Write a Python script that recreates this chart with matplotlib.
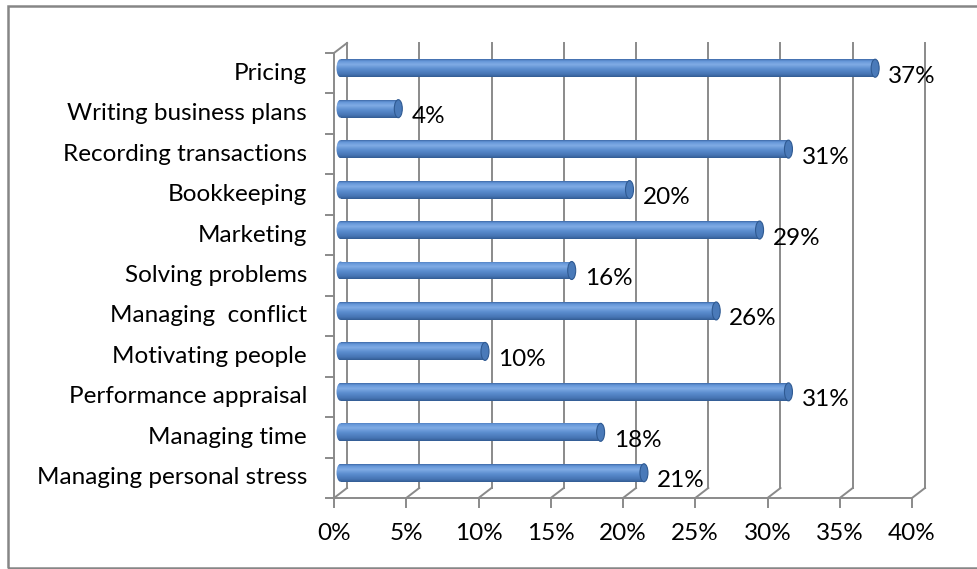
import numpy as np
import matplotlib.pyplot as plt
from matplotlib.patches import Rectangle, Ellipse
from matplotlib.colors import to_rgb

plt.rcParams['font.family'] = ['Lato', 'DejaVu Sans']

# data, bottom to top
categories = ['Managing personal stress', 'Managing time', 'Performance appraisal',
              'Motivating people', 'Managing  conflict', 'Solving problems',
              'Marketing', 'Bookkeeping', 'Recording transactions',
              'Writing business plans', 'Pricing']
values = [21, 18, 31, 10, 26, 16, 29, 20, 31, 4, 37]
xticks = [0, 5, 10, 15, 20, 25, 30, 35, 40]

W, H = 977, 569
fig = plt.figure(figsize=(W / 100, H / 100), dpi=100)

# front plane of the 3d box, in pixels
x0_px, x1_px = 334, 912
top_px, floor_px = 53, 498
ax = fig.add_axes([x0_px / W, (H - floor_px) / H, (x1_px - x0_px) / W, (floor_px - top_px) / H])
n = len(categories)
ax.set_xlim(0, 40)
ax.set_ylim(-0.5, n - 0.5)
ax.axis('off')

# pixel -> data unit helpers
sx = (x1_px - x0_px) / 40.0
sy = (floor_px - top_px) / n
def px_x(p): return p / sx
def px_y(p): return p / sy

DX, DY = px_x(13), px_y(10)      # depth of the box
MX, MY = px_x(6.5), px_y(5)      # bars sit at mid depth
grid_c = '#8a8a8a'
lw = 1.4
fs = 17.5

# back wall gridlines + floor
for t in xticks:
    ax.plot([t + DX, t + DX], [-0.5 + DY, n - 0.5 + DY], color=grid_c, lw=lw, clip_on=False, zorder=1)
    ax.plot([t, t + DX], [-0.5, -0.5 + DY], color=grid_c, lw=lw, clip_on=False, zorder=1)
    ax.plot([t, t], [-0.5, -0.5 - px_y(9)], color=grid_c, lw=lw, clip_on=False, zorder=1)
    ax.text(t, -0.5 - px_y(35), f'{t}%', ha='center', va='center', fontsize=fs)
ax.plot([0, 40], [-0.5, -0.5], color=grid_c, lw=lw, clip_on=False, zorder=1)

# left wall
ax.plot([0, 0], [-0.5, n - 0.5], color=grid_c, lw=lw, clip_on=False, zorder=1)
ax.plot([0, DX], [n - 0.5, n - 0.5 + DY], color=grid_c, lw=lw, clip_on=False, zorder=1)
for k in range(n + 1):
    ax.plot([-px_x(8), 0], [k - 0.5, k - 0.5], color=grid_c, lw=lw, clip_on=False, zorder=1)

# cylinder shading, top to bottom
stops = [(0.0, '#3e6aa8'), (0.1, '#6395d7'), (0.3, '#80ace5'), (0.55, '#5b8dcf'),
         (0.85, '#4674b3'), (1.0, '#335c93')]
pos = np.linspace(0, 1, 64)
grad = np.zeros((64, 1, 3))
for c in range(3):
    grad[:, 0, c] = np.interp(pos, [s[0] for s in stops], [to_rgb(s[1])[c] for s in stops])

bh = px_y(18)
cap_w = px_x(8)
for i, (cat, v) in enumerate(zip(categories, values)):
    yc = i + MY
    xs = MX
    xe = v + MX
    shapes = [Rectangle((xs, yc - bh / 2), xe - xs, bh, transform=ax.transData),
              Ellipse((xs, yc), cap_w, bh, transform=ax.transData)]
    for shp in shapes:
        im = ax.imshow(grad, extent=[xs - cap_w, xe + cap_w, yc - bh / 2, yc + bh / 2],
                       origin='upper', aspect='auto', interpolation='bilinear', zorder=3)
        im.set_clip_path(shp)
    ax.add_patch(Ellipse((xe, yc), cap_w, bh, facecolor='#4a7ab9',
                         edgecolor='#2f5a92', lw=0.8, zorder=4))
    ax.text(xe + px_x(13), i + px_y(-3), f'{v}%', ha='left', va='center', fontsize=fs, zorder=5)
    ax.text(-px_x(27), i, cat, ha='right', va='center', fontsize=fs, zorder=5)

ax.set_xlim(0, 40)
ax.set_ylim(-0.5, n - 0.5)

# chart area border
fig.patches.append(Rectangle((8 / W, 1 / H), (W + 20) / W, (H - 7) / H, transform=fig.transFigure,
                             fill=False, edgecolor='#868686', lw=1.8))

fig.savefig('out.png', dpi=100)
